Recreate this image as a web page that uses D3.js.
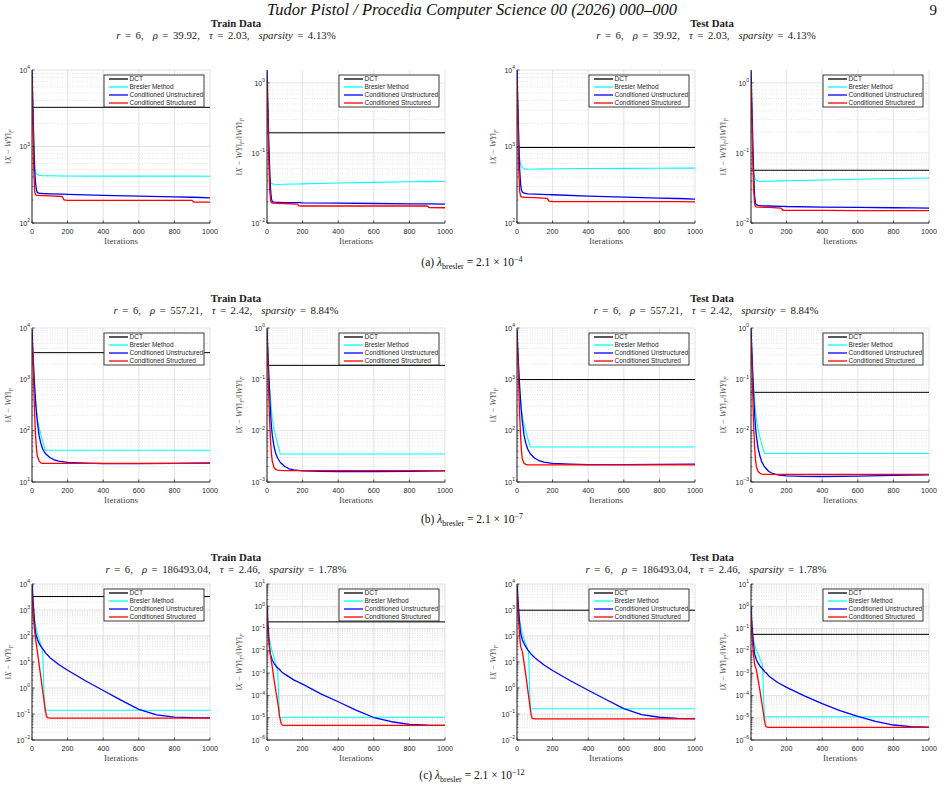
<!DOCTYPE html>
<html>
<head>
<meta charset="utf-8">
<script src="https://cdn.jsdelivr.net/npm/d3@7"></script>
<style>
  body { margin: 0; background: #fff; }
  text { white-space: pre; }
</style>
</head>
<body>
<svg id="fig" width="944" height="792"></svg>
<script>
// ---- Datos ----
const seriesNames = ['DCT', 'Bresler Method', 'Conditioned Unstructured', 'Conditioned Structured'];
const seriesColors = ['#000000', '#00ffff', '#0000ff', '#ff0000'];
const xTicks = [0, 200, 400, 600, 800, 1000];

const rhoVals = ['39.92', '557.21', '186493.04'];
const tauVals = ['2.03', '2.42', '2.46'];
const sparsityVals = ['4.13', '8.84', '1.78'];
const captionLetters = ['(a)', '(b)', '(c)'];
const lambdaExps = ['\u22124', '\u22127', '\u221212'];

// fila (a)
const iterA = [0, 5, 10, 15, 20, 25, 30, 40, 60, 100, 170, 180, 200, 400, 600, 800, 900, 910, 1000];
const dctA = [3250, 0.194, 970, 0.0566];
const bresA1 = [9000, 3000, 1000, 550, 460, 440, 430, 420, 415, 415, 412, 412, 412, 410, 410, 410, 410, 410, 408];
const uncA1 = [10000, 3500, 1200, 500, 330, 270, 250, 245, 243, 241, 238, 238, 237, 230, 225, 220, 217, 217, 213];
const strA1 = [7200, 2000, 500, 260, 235, 232, 230, 229, 228, 226, 222, 200, 198, 198, 197, 197, 197, 188, 187];
const bresA2 = [1.2, 0.3, 0.08, 0.045, 0.038, 0.037, 0.0365, 0.0357, 0.0355, 0.0357, 0.036, 0.036, 0.0362, 0.0372, 0.038, 0.0388, 0.039, 0.039, 0.0392];
const uncA2 = [1.5, 0.5, 0.15, 0.06, 0.03, 0.022, 0.0202, 0.0198, 0.0197, 0.0196, 0.0195, 0.0195, 0.0194, 0.0192, 0.019, 0.0188, 0.0187, 0.0187, 0.0186];
const strA2 = [1.0, 0.3, 0.08, 0.03, 0.021, 0.0195, 0.0193, 0.0192, 0.0191, 0.019, 0.0186, 0.0176, 0.0175, 0.0175, 0.0175, 0.0175, 0.0175, 0.0166, 0.0165];
const bresA3 = [9000, 3000, 1200, 700, 580, 550, 530, 510, 505, 508, 510, 510, 511, 515, 518, 520, 521, 521, 522];
const uncA3 = [10000, 3500, 1200, 500, 330, 270, 255, 245, 240, 238, 235, 235, 234, 225, 218, 212, 209, 209, 205];
const strA3 = [7500, 2000, 500, 260, 225, 220, 218, 217, 216, 215, 210, 193, 191, 190, 190, 190, 190, 190, 189];
const bresA4 = [1.2, 0.3, 0.1, 0.055, 0.045, 0.042, 0.041, 0.0395, 0.0392, 0.0395, 0.04, 0.04, 0.0401, 0.0412, 0.0422, 0.0432, 0.0436, 0.0436, 0.044];
const uncA4 = [1.5, 0.5, 0.15, 0.05, 0.025, 0.019, 0.0183, 0.0178, 0.0176, 0.0175, 0.0173, 0.0173, 0.0172, 0.0169, 0.0167, 0.0165, 0.0164, 0.0164, 0.0163];
const strA4 = [1.0, 0.3, 0.08, 0.03, 0.019, 0.0172, 0.017, 0.0169, 0.0168, 0.0167, 0.0163, 0.0152, 0.0151, 0.0151, 0.015, 0.015, 0.015, 0.015, 0.015];

// fila (b)
const iterB = [0, 5, 10, 15, 20, 25, 30, 40, 50, 60, 75, 100, 125, 150, 200, 300, 400, 600, 800, 1000];
const dctB = [3310, 0.187, 990, 0.0558];
const bresB1 = [9000, 3500, 1500, 700, 380, 240, 170, 115, 85, 62, 41.5, 41.5, 41.5, 41.5, 41.5, 41.5, 41.5, 41.5, 41.5, 41.5];
const uncB1 = [9500, 3500, 1500, 700, 380, 230, 150, 80, 56, 44, 36, 30, 27, 25.5, 24, 23.3, 22.7, 22.7, 23.1, 23.5];
const strB1 = [6000, 2500, 700, 200, 80, 45, 32, 25.5, 23.5, 23, 23, 23, 23, 23, 23, 23, 23, 23, 23, 23];
const bresB2 = [0.9, 0.35, 0.15, 0.07, 0.04, 0.025, 0.017, 0.0105, 0.0075, 0.0055, 0.0035, 0.0035, 0.0035, 0.0035, 0.0035, 0.0035, 0.0035, 0.0035, 0.0035, 0.0035];
const uncB2 = [1.0, 0.35, 0.12, 0.05, 0.022, 0.012, 0.008, 0.0048, 0.0035, 0.0029, 0.0024, 0.002, 0.0018, 0.00172, 0.00165, 0.00161, 0.0016, 0.0016, 0.00162, 0.00165];
const strB2 = [0.62, 0.2, 0.05, 0.015, 0.006, 0.0035, 0.0025, 0.0019, 0.00175, 0.0017, 0.00168, 0.00167, 0.00167, 0.00167, 0.00167, 0.00167, 0.00167, 0.00167, 0.00167, 0.00166];
const bresB3 = [9000, 3500, 1500, 700, 400, 260, 190, 130, 95, 72, 48, 48, 48, 48, 48, 48, 48, 48, 48, 48];
const uncB3 = [9500, 3500, 1500, 700, 380, 230, 150, 80, 56, 44, 35, 29, 26, 24.5, 23, 22.2, 21.8, 21.8, 22, 22.3];
const strB3 = [6000, 2500, 700, 200, 80, 40, 28, 23, 22, 21.6, 21.5, 21.5, 21.5, 21.5, 21.5, 21.5, 21.5, 21.5, 21.5, 21.5];
const bresB4 = [0.9, 0.35, 0.15, 0.07, 0.04, 0.025, 0.017, 0.0105, 0.0075, 0.0056, 0.0036, 0.0036, 0.0036, 0.0036, 0.0036, 0.0036, 0.0036, 0.0036, 0.0036, 0.0036];
const uncB4 = [1.0, 0.35, 0.12, 0.05, 0.022, 0.012, 0.008, 0.0045, 0.0032, 0.0025, 0.002, 0.0016, 0.00145, 0.00138, 0.00132, 0.00129, 0.00128, 0.0013, 0.00134, 0.00138];
const strB4 = [0.62, 0.2, 0.05, 0.012, 0.005, 0.0028, 0.002, 0.0016, 0.00148, 0.00143, 0.00141, 0.00141, 0.00141, 0.00141, 0.00141, 0.00141, 0.00141, 0.00141, 0.00141, 0.00141];

// fila (c)
const iterC = [0, 5, 10, 15, 20, 30, 40, 50, 60, 65, 70, 75, 80, 85, 100, 150, 200, 300, 400, 500, 600, 700, 800, 900, 1000];
const dctC = [3300, 0.2, 980, 0.055];
const bresC1 = [8000, 2000, 700, 400, 250, 130, 75, 45, 28, 2, 0.14, 0.14, 0.14, 0.14, 0.14, 0.14, 0.14, 0.14, 0.14, 0.14, 0.14, 0.14, 0.14, 0.14, 0.14];
const uncC1 = [10000, 3000, 900, 300, 130, 75, 52, 40, 32, 29, 26, 23, 21, 19.5, 15, 8, 4.8, 1.9, 0.8, 0.34, 0.15, 0.092, 0.076, 0.072, 0.071];
const strC1 = [5000, 1200, 350, 150, 80, 25, 8, 2.5, 0.8, 0.45, 0.25, 0.14, 0.09, 0.072, 0.07, 0.07, 0.07, 0.07, 0.07, 0.07, 0.07, 0.07, 0.07, 0.07, 0.07];
const bresC2 = [0.6, 0.15, 0.05, 0.03, 0.018, 0.009, 0.005, 0.0025, 0.0013, 0.00012, 0.0000105, 0.0000105, 0.0000105, 0.0000105, 0.0000105, 0.0000105, 0.0000105, 0.0000105, 0.0000105, 0.0000105, 0.0000105, 0.0000105, 0.0000105, 0.0000105, 0.0000105];
const uncC2 = [1.05, 0.2, 0.04, 0.012, 0.0065, 0.0038, 0.0027, 0.0021, 0.0017, 0.0016, 0.0015, 0.0013, 0.0012, 0.0011, 0.0009, 0.0005, 0.00032, 0.00012, 0.000052, 0.000022, 0.0000102, 0.0000066, 0.000005, 0.0000046, 0.0000045];
const strC2 = [0.6, 0.08, 0.025, 0.012, 0.006, 0.0018, 0.0005, 0.00015, 0.00005, 0.000027, 0.000012, 0.000008, 0.0000055, 0.0000047, 0.0000045, 0.0000045, 0.0000045, 0.0000045, 0.0000045, 0.0000045, 0.0000045, 0.0000045, 0.0000045, 0.0000045, 0.0000045];
const bresC3 = [8000, 2000, 700, 400, 250, 130, 75, 48, 30, 25, 1.5, 0.16, 0.16, 0.16, 0.16, 0.16, 0.16, 0.16, 0.16, 0.16, 0.16, 0.16, 0.16, 0.16, 0.16];
const uncC3 = [10000, 3000, 900, 300, 130, 72, 50, 38, 30, 27, 24.5, 22, 20, 18.5, 14.5, 7.8, 4.7, 1.9, 0.82, 0.36, 0.16, 0.095, 0.075, 0.068, 0.066];
const strC3 = [5000, 1200, 300, 100, 40, 25, 9, 3, 0.9, 0.5, 0.28, 0.15, 0.09, 0.068, 0.065, 0.065, 0.065, 0.065, 0.065, 0.065, 0.065, 0.065, 0.065, 0.065, 0.065];
const bresC4 = [0.6, 0.15, 0.05, 0.03, 0.02, 0.011, 0.007, 0.0045, 0.003, 0.0022, 0.00012, 0.000011, 0.000011, 0.000011, 0.000011, 0.000011, 0.000011, 0.000011, 0.000011, 0.000011, 0.000011, 0.000011, 0.000011, 0.000011, 0.000011];
const uncC4 = [1.0, 0.17, 0.05, 0.017, 0.0073, 0.004, 0.0028, 0.0021, 0.0017, 0.0015, 0.0014, 0.0012, 0.0011, 0.00104, 0.00075, 0.00038, 0.00023, 0.000095, 0.000043, 0.000021, 0.0000115, 0.0000068, 0.0000047, 0.000004, 0.0000038];
const strC4 = [0.5, 0.07, 0.017, 0.006, 0.0025, 0.0014, 0.0005, 0.00017, 0.00005, 0.000028, 0.000016, 0.0000085, 0.000005, 0.0000039, 0.0000037, 0.0000037, 0.0000037, 0.0000037, 0.0000037, 0.0000037, 0.0000037, 0.0000037, 0.0000037, 0.0000037, 0.0000037];

// limites del eje Y (log) por panel
const yMinA = [1e2, 1e-2, 1e2, 1e-2], yMaxA = [1e4, 1.53, 1e4, 1.53];
const yMinB = [1e1, 1e-3, 1e1, 1e-3], yMaxB = [1e4, 1, 1e4, 1];
const yMinC = [1e-2, 1e-6, 1e-2, 1e-6], yMaxC = [1e4, 1e1, 1e4, 1e1];

// ---- Disposición ----
const colX = [32, 267, 517, 751];
const plotW = 178;
const rowTop = [70, 328, 584];
const rowBottom = [223, 482, 740];
const titleY = [27, 302, 561];
const captionY = [266, 523, 779];
const groupCenter = [236, 712];
const subCenter = [226, 706];

const sans = 'Liberation Sans, Arial, Helvetica, sans-serif';
const serif = 'Liberation Serif, Times New Roman, serif';
const svg = d3.select('#fig');

const rowsData = [
  { iters: iterA, dct: dctA, bres: [bresA1, bresA2, bresA3, bresA4], unc: [uncA1, uncA2, uncA3, uncA4], str: [strA1, strA2, strA3, strA4], yMin: yMinA, yMax: yMaxA },
  { iters: iterB, dct: dctB, bres: [bresB1, bresB2, bresB3, bresB4], unc: [uncB1, uncB2, uncB3, uncB4], str: [strB1, strB2, strB3, strB4], yMin: yMinB, yMax: yMaxB },
  { iters: iterC, dct: dctC, bres: [bresC1, bresC2, bresC3, bresC4], unc: [uncC1, uncC2, uncC3, uncC4], str: [strC1, strC2, strC3, strC4], yMin: yMinC, yMax: yMaxC }
];

/* Etiqueta 10^n */
function powLabel(sel, exp) {
  sel.append('tspan').text('10');
  sel.append('tspan').attr('font-size', 5).attr('dy', -3.2).text(exp < 0 ? '\u2212' + (-exp) : exp);
}

/* Etiqueta eje Y con notación de norma */
function normLabel(sel, rel) {
  sel.append('tspan').text('\u2016');
  sel.append('tspan').attr('font-style', 'italic').text('X');
  sel.append('tspan').text(' \u2212 ');
  sel.append('tspan').attr('font-style', 'italic').text('WY');
  sel.append('tspan').text('\u2016');
  sel.append('tspan').attr('font-style', 'italic').attr('font-size', 6).attr('dy', 2).text('F');
  if (rel) {
    sel.append('tspan').attr('dy', -2).text('/\u2016');
    sel.append('tspan').attr('font-style', 'italic').text('WY');
    sel.append('tspan').text('\u2016');
    sel.append('tspan').attr('font-style', 'italic').attr('font-size', 6).attr('dy', 2).text('F');
  }
}

function drawPanel(row, col) {
  const rd = rowsData[row];
  const rel = col % 2 === 1;
  const left = colX[col], right = left + plotW;
  const top = rowTop[row], bottom = rowBottom[row];
  const yMin = rd.yMin[col], yMax = rd.yMax[col];

  const x = d3.scaleLinear().domain([0, 1000]).range([left, right]);
  const y = d3.scaleLog().domain([yMin, yMax]).range([bottom, top]);

  const clipId = 'clip-' + row + '-' + col;
  svg.append('clipPath').attr('id', clipId).append('rect')
    .attr('x', left).attr('y', top - 1).attr('width', plotW + 1).attr('height', bottom - top + 1);

  const g = svg.append('g');

  // rejilla
  const eLo = Math.ceil(Math.log10(yMin) - 1e-9), eHi = Math.floor(Math.log10(yMax) + 1e-9);
  const majors = d3.range(eLo, eHi + 1);
  const minors = [];
  for (let e = Math.floor(Math.log10(yMin) + 1e-9); e <= eHi; e++) {
    for (let k = 2; k <= 9; k++) {
      const v = k * Math.pow(10, e);
      if (v > yMin && v < yMax) minors.push(v);
    }
  }
  g.selectAll('.minor').data(minors).enter().append('line')
    .attr('x1', left).attr('x2', right)
    .attr('y1', d => y(d)).attr('y2', d => y(d))
    .attr('stroke', '#d0d0d0').attr('stroke-width', 0.6).attr('stroke-dasharray', '1,1.5');
  g.selectAll('.gy').data(majors).enter().append('line')
    .attr('x1', left).attr('x2', right)
    .attr('y1', d => y(Math.pow(10, d))).attr('y2', d => y(Math.pow(10, d)))
    .attr('stroke', '#dcdcdc').attr('stroke-width', 0.8);
  g.selectAll('.gx').data(xTicks).enter().append('line')
    .attr('x1', d => x(d)).attr('x2', d => x(d))
    .attr('y1', top).attr('y2', bottom)
    .attr('stroke', '#dcdcdc').attr('stroke-width', 0.8);

  // series
  const line = d3.line().x(d => x(d[0])).y(d => y(d[1]));
  const lines = g.append('g').attr('clip-path', 'url(#' + clipId + ')');
  lines.append('path')
    .attr('d', line([[0, rd.dct[col]], [1000, rd.dct[col]]]))
    .attr('fill', 'none').attr('stroke', seriesColors[0]).attr('stroke-width', 1);
  [rd.bres[col], rd.unc[col], rd.str[col]].forEach(function(vals, i) {
    lines.append('path')
      .attr('d', line(rd.iters.map((it, j) => [it, vals[j]])))
      .attr('fill', 'none').attr('stroke', seriesColors[i + 1])
      .attr('stroke-width', i === 0 ? 1.1 : 1.3).attr('stroke-linejoin', 'round');
  });

  // ejes
  g.append('line').attr('x1', left).attr('x2', left).attr('y1', top).attr('y2', bottom)
    .attr('stroke', '#262626').attr('stroke-width', 1);
  g.append('line').attr('x1', left).attr('x2', right).attr('y1', bottom).attr('y2', bottom)
    .attr('stroke', '#262626').attr('stroke-width', 1);
  g.selectAll('.ty').data(majors).enter().append('line')
    .attr('x1', left).attr('x2', left + 2.5)
    .attr('y1', d => y(Math.pow(10, d))).attr('y2', d => y(Math.pow(10, d)))
    .attr('stroke', '#262626').attr('stroke-width', 0.8);
  g.selectAll('.tmy').data(minors).enter().append('line')
    .attr('x1', left).attr('x2', left + 1.5)
    .attr('y1', d => y(d)).attr('y2', d => y(d))
    .attr('stroke', '#262626').attr('stroke-width', 0.6);
  g.selectAll('.tx').data(xTicks).enter().append('line')
    .attr('x1', d => x(d)).attr('x2', d => x(d))
    .attr('y1', bottom).attr('y2', bottom - 2.5)
    .attr('stroke', '#262626').attr('stroke-width', 0.8);

  // etiquetas de ticks
  g.selectAll('.ly').data(majors).enter().append('text')
    .attr('x', left - 2).attr('y', d => y(Math.pow(10, d)) + 2.6)
    .attr('text-anchor', 'end').attr('font-family', sans).attr('font-size', 7)
    .attr('fill', '#262626')
    .each(function(d) { powLabel(d3.select(this), d); });
  g.selectAll('.lx').data(xTicks).enter().append('text')
    .attr('x', d => x(d)).attr('y', bottom + 10.5)
    .attr('text-anchor', 'middle').attr('font-family', sans).attr('font-size', 7.2)
    .attr('fill', '#262626').text(d => d);

  g.append('text').attr('x', (left + right) / 2).attr('y', bottom + 20.5)
    .attr('text-anchor', 'middle').attr('font-family', serif).attr('font-size', 9)
    .attr('fill', '#444').text('Iterations');

  const lx = left - (rel ? 25 : 21), ly = (top + bottom) / 2;
  g.append('text').attr('transform', 'translate(' + lx + ',' + ly + ') rotate(-90)')
    .attr('text-anchor', 'middle').attr('font-family', serif).attr('font-size', 8.5)
    .attr('fill', '#555')
    .call(sel => normLabel(sel, rel));

  // leyenda
  const bw = 100, bh = 32;
  const bx = right - 6 - bw, by = top + 5;
  const leg = g.append('g');
  leg.append('rect').attr('x', bx).attr('y', by).attr('width', bw).attr('height', bh)
    .attr('fill', '#fff').attr('stroke', '#262626').attr('stroke-width', 0.9);
  seriesNames.forEach(function(name, i) {
    const yy = by + 4 + i * 8;
    leg.append('line').attr('x1', bx + 5).attr('x2', bx + 24).attr('y1', yy).attr('y2', yy)
      .attr('stroke', seriesColors[i]).attr('stroke-width', 1.3);
    leg.append('text').attr('x', bx + 25.5).attr('y', yy + 2.2)
      .attr('font-family', sans).attr('font-size', 6.5).attr('fill', '#262626').text(name);
  });
}

for (let r = 0; r < 3; r++) {
  for (let c = 0; c < 4; c++) drawPanel(r, c);

  [0, 1].forEach(function(k) {
    svg.append('text').attr('x', groupCenter[k]).attr('y', titleY[r])
      .attr('text-anchor', 'middle').attr('font-family', serif).attr('font-weight', 'bold')
      .attr('font-size', 10.8).attr('fill', '#222').text(k === 0 ? 'Train Data' : 'Test Data');
    const st = svg.append('text').attr('x', subCenter[k]).attr('y', titleY[r] + 11.5)
      .attr('text-anchor', 'middle').attr('font-family', serif).attr('font-size', 10.8)
      .attr('word-spacing', 1.8).attr('fill', '#222');
    st.append('tspan').attr('font-style', 'italic').text('r');
    st.append('tspan').text(' = 6,  ');
    st.append('tspan').attr('font-style', 'italic').text('\u03c1');
    st.append('tspan').text(' = ' + rhoVals[r] + ',  ');
    st.append('tspan').attr('font-style', 'italic').text('\u03c4');
    st.append('tspan').text(' = ' + tauVals[r] + ',  ');
    st.append('tspan').attr('font-style', 'italic').text('sparsity');
    st.append('tspan').text(' = ' + sparsityVals[r] + '%');
  });

  const cap = svg.append('text').attr('x', 472).attr('y', captionY[r])
    .attr('text-anchor', 'middle').attr('font-family', serif).attr('font-size', 11.5).attr('fill', '#111');
  cap.append('tspan').text(captionLetters[r] + ' ');
  cap.append('tspan').attr('font-style', 'italic').text('\u03bb');
  cap.append('tspan').attr('font-size', 8).attr('dy', 2.5).text('bresler');
  cap.append('tspan').attr('dy', -2.5).text(' = 2.1 \u00d7 10');
  cap.append('tspan').attr('font-size', 8).attr('dy', -4.5).text(lambdaExps[r]);
}

// cabecera
svg.append('text').attr('x', 472).attr('y', 15).attr('text-anchor', 'middle')
  .attr('font-family', serif).attr('font-style', 'italic').attr('font-size', 16.5)
  .attr('fill', '#111').text('Tudor Pistol / Procedia Computer Science 00 (2026) 000\u2013000');
svg.append('text').attr('x', 937).attr('y', 15).attr('text-anchor', 'end')
  .attr('font-family', serif).attr('font-size', 15).attr('fill', '#111').text('9');
</script>
</body>
</html>
